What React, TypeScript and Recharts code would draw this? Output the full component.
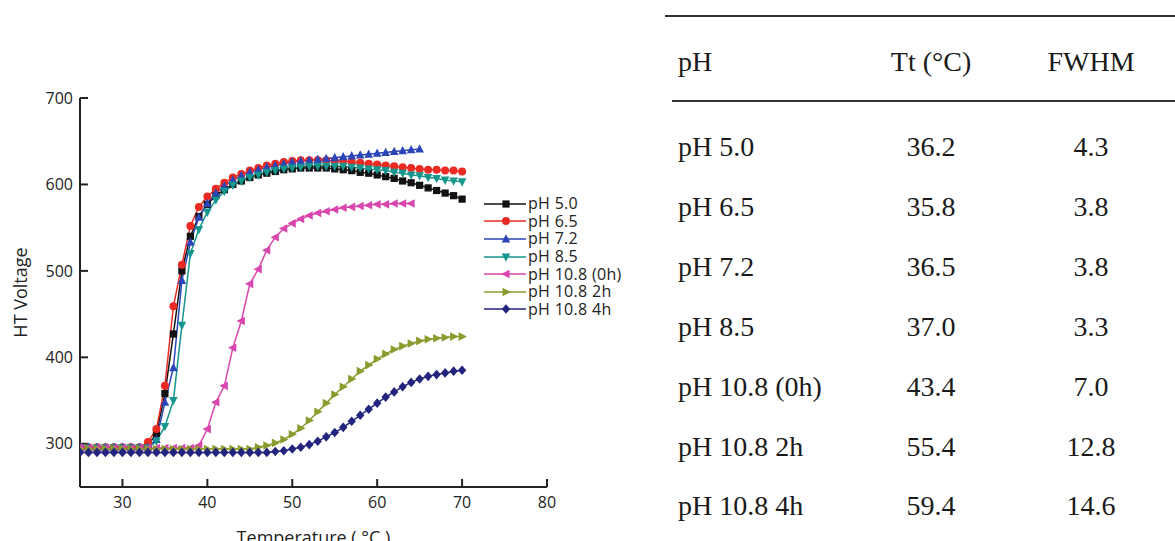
import React from 'react'
import { LineChart, Line, XAxis, YAxis, Legend } from 'recharts'

// ---------------------------------------------------------------------------
// Data (temperature in °C, HT voltage)
// ---------------------------------------------------------------------------

const temps = [
  25, 26, 27, 28, 29, 30, 31, 32, 33, 34, 35, 36, 37, 38, 39, 40, 41, 42, 43, 44, 45, 46, 47,
  48, 49, 50, 51, 52, 53, 54, 55, 56, 57, 58, 59, 60, 61, 62, 63, 64, 65, 66, 67, 68, 69, 70,
]

const ph50 = [
  295, 295, 295, 295, 295, 295, 295, 295, 298, 312, 358, 427, 500, 540, 563, 577, 587, 594, 600, 604, 608, 611, 613,
  615, 617, 618, 619, 619, 619, 619, 618, 617, 616, 614, 613, 611, 609, 607, 604, 602, 599, 596, 593, 590, 587, 583,
]

const ph65 = [
  296, 296, 296, 296, 296, 296, 296, 296, 302, 317, 367, 459, 507, 552, 574, 586, 595, 602, 608, 612, 616, 619, 622,
  624, 626, 627, 628, 628, 628, 628, 627, 627, 626, 625, 624, 623, 622, 621, 620, 619, 618, 617, 617, 616, 616, 615,
]

const ph72 = [
  296, 296, 296, 296, 296, 296, 296, 296, 296, 305, 348, 388, 489, 533, 562, 578, 590, 598, 605, 610, 614, 617, 620,
  622, 624, 626, 627, 628, 629, 630, 631, 632, 633, 634, 635, 636, 637, 638, 639, 640, 641, null, null, null, null, null,
]

const ph85 = [
  295, 295, 295, 295, 295, 295, 295, 295, 295, 303, 320, 350, 437, 520, 548, 568, 582, 592, 599, 604, 608, 611, 614,
  616, 618, 619, 620, 621, 621, 621, 621, 621, 620, 619, 618, 617, 616, 614, 613, 611, 610, 608, 607, 605, 604, 603,
]

const ph108_0h = [
  295, 295, 295, 295, 295, 295, 295, 295, 295, 295, 295, 295, 295, 295, 298, 317, 348, 367, 411, 442, 485, 502, 524,
  539, 549, 555, 560, 564, 567, 569, 571, 573, 574, 575, 576, 577, 577, 578, 578, 578, null, null, null, null, null, null,
]

const ph108_2h = [
  294, 294, 294, 294, 294, 294, 294, 294, 294, 294, 294, 294, 294, 294, 294, 294, 294, 294, 294, 294, 294, 296, 298,
  301, 305, 311, 318, 327, 337, 347, 357, 366, 375, 384, 391, 398, 404, 409, 413, 416, 419, 421, 422, 423, 424, 424,
]

const ph108_4h = [
  290, 290, 290, 290, 290, 290, 290, 290, 290, 290, 290, 290, 290, 290, 290, 290, 290, 290, 290, 290, 290, 290, 290,
  291, 292, 294, 296, 299, 303, 308, 313, 319, 326, 333, 340, 347, 354, 360, 366, 371, 375, 378, 380, 382, 384, 385,
]

const xTicks = [30, 40, 50, 60, 70, 80]
const yTicks = [300, 400, 500, 600, 700]

// table on the right
const tableHeader = ['pH', 'Tt (°C)', 'FWHM']
const tablePh = ['pH 5.0', 'pH 6.5', 'pH 7.2', 'pH 8.5', 'pH 10.8 (0h)', 'pH 10.8 2h', 'pH 10.8 4h']
const tableTt = ['36.2', '35.8', '36.5', '37.0', '43.4', '55.4', '59.4']
const tableFwhm = ['4.3', '3.8', '3.8', '3.3', '7.0', '12.8', '14.6']

// ---------------------------------------------------------------------------

type Shape = 'square' | 'circle' | 'up' | 'down' | 'left' | 'right' | 'diamond'

const series: { key: string; name: string; color: string; shape: Shape; values: (number | null)[] }[] = [
  { key: 'ph50', name: 'pH 5.0', color: '#111111', shape: 'square', values: ph50 },
  { key: 'ph65', name: 'pH 6.5', color: '#ec2a24', shape: 'circle', values: ph65 },
  { key: 'ph72', name: 'pH 7.2', color: '#2a45b8', shape: 'up', values: ph72 },
  { key: 'ph85', name: 'pH 8.5', color: '#16968c', shape: 'down', values: ph85 },
  { key: 'ph108_0h', name: 'pH 10.8 (0h)', color: '#d946ae', shape: 'left', values: ph108_0h },
  { key: 'ph108_2h', name: 'pH 10.8 2h', color: '#8c9a2e', shape: 'right', values: ph108_2h },
  { key: 'ph108_4h', name: 'pH 10.8 4h', color: '#23247e', shape: 'diamond', values: ph108_4h },
]

const chartData = temps.map((t, i) => {
  const row: Record<string, number | null> = { t }
  series.forEach((s) => {
    row[s.key] = s.values[i]
  })
  return row
})

function Marker({ cx, cy, shape, color }: { cx: number; cy: number; shape: Shape; color: string }) {
  const r = 4.3
  switch (shape) {
    case 'square':
      return <rect x={cx - 3.6} y={cy - 3.6} width={7.2} height={7.2} fill={color} />
    case 'circle':
      return <circle cx={cx} cy={cy} r={4} fill={color} />
    case 'up':
      return <path d={`M${cx},${cy - r - 0.5} L${cx + r},${cy + r - 0.8} L${cx - r},${cy + r - 0.8}Z`} fill={color} />
    case 'down':
      return <path d={`M${cx},${cy + r + 0.5} L${cx + r},${cy - r + 0.8} L${cx - r},${cy - r + 0.8}Z`} fill={color} />
    case 'left':
      return <path d={`M${cx - r - 0.5},${cy} L${cx + r - 0.8},${cy - r} L${cx + r - 0.8},${cy + r}Z`} fill={color} />
    case 'right':
      return <path d={`M${cx + r + 0.5},${cy} L${cx - r + 0.8},${cy - r} L${cx - r + 0.8},${cy + r}Z`} fill={color} />
    default:
      return <path d={`M${cx},${cy - 4.8} L${cx + 4.2},${cy} L${cx},${cy + 4.8} L${cx - 4.2},${cy}Z`} fill={color} />
  }
}

function makeDot(shape: Shape, color: string) {
  return (props: any) => {
    const { cx, cy, index, value } = props
    if (value == null || cx == null || cy == null) return <g key={index} />
    return (
      <g key={index}>
        <Marker cx={cx} cy={cy} shape={shape} color={color} />
      </g>
    )
  }
}

function ChartLegend() {
  return (
    <div style={{ fontFamily: '"Open Sans", sans-serif', fontSize: 16, letterSpacing: 0.3, color: '#222' }}>
      {series.map((s) => (
        <div key={s.key} style={{ display: 'flex', alignItems: 'center', height: 17.6 }}>
          <svg width={42} height={14} style={{ display: 'block' }}>
            <line x1={0} y1={7} x2={42} y2={7} stroke={s.color} strokeWidth={1.5} />
            <Marker cx={22} cy={7} shape={s.shape} color={s.color} />
          </svg>
          <span style={{ marginLeft: 2, lineHeight: '17px', whiteSpace: 'nowrap' }}>{s.name}</span>
        </div>
      ))}
    </div>
  )
}

const tickStyle = { fontSize: 16, fill: '#222', fontFamily: '"Open Sans", sans-serif' }
const titleStyle = { fontSize: 18, fill: '#222', fontFamily: '"Open Sans", sans-serif' }
const serif = '"Liberation Serif", "Times New Roman", serif'

export default function App() {
  const rowCenters = [147, 207, 267, 327, 387, 447, 506]

  return (
    <div style={{ position: 'absolute', left: 0, top: 0, width: 1175, height: 541, background: '#fff', overflow: 'hidden' }}>
      <div style={{ position: 'absolute', left: 0, top: 0 }}>
        <LineChart width={660} height={560} data={chartData} margin={{ top: 98, right: 113, bottom: 43, left: 20 }}>
          <XAxis
            dataKey="t"
            type="number"
            domain={[25, 80]}
            ticks={xTicks}
            allowDataOverflow
            tick={tickStyle}
            tickSize={-8}
            tickMargin={18}
            height={30}
            axisLine={{ stroke: '#222', strokeWidth: 2 }}
            tickLine={{ stroke: '#222', strokeWidth: 2 }}
            label={{ value: 'Temperature ( °C )', position: 'center', dy: 36, ...titleStyle }}
          />
          <YAxis
            type="number"
            domain={[250, 700]}
            ticks={yTicks}
            allowDataOverflow
            tick={tickStyle}
            tickSize={-8}
            tickMargin={15}
            width={60}
            axisLine={{ stroke: '#222', strokeWidth: 2 }}
            tickLine={{ stroke: '#222', strokeWidth: 2 }}
            label={{ value: 'HT Voltage', angle: -90, position: 'center', dx: -29, ...titleStyle }}
          />
          <Legend
            content={<ChartLegend />}
            layout="vertical"
            align="center"
            verticalAlign="middle"
            wrapperStyle={{ position: 'absolute', left: 484, top: 195, width: 170 }}
          />
          {series.map((s) => (
            <Line
              key={s.key}
              dataKey={s.key}
              name={s.name}
              stroke={s.color}
              strokeWidth={1.5}
              dot={makeDot(s.shape, s.color)}
              activeDot={false}
              isAnimationActive={false}
            />
          ))}
        </LineChart>
      </div>

      {/* Summary table */}
      <div style={{ position: 'absolute', left: 665, top: 15, width: 510, height: 2, background: '#333' }} />
      <div style={{ position: 'absolute', left: 672, top: 100, width: 503, height: 2, background: '#333' }} />
      {[tableHeader].concat(tablePh.map((p, i) => [p, tableTt[i], tableFwhm[i]])).map((row, i) => {
        const cy = i === 0 ? 62 : rowCenters[i - 1]
        const base = { position: 'absolute' as const, top: cy - 18, height: 36, lineHeight: '36px', fontFamily: serif, fontSize: 28, color: '#1a1a1a', whiteSpace: 'nowrap' as const }
        return (
          <React.Fragment key={i}>
            <div style={{ ...base, left: 678 }}>{row[0]}</div>
            <div style={{ ...base, left: 851, width: 160, textAlign: 'center' }}>{row[1]}</div>
            <div style={{ ...base, left: 1011, width: 160, textAlign: 'center' }}>{row[2]}</div>
          </React.Fragment>
        )
      })}
    </div>
  )
}
